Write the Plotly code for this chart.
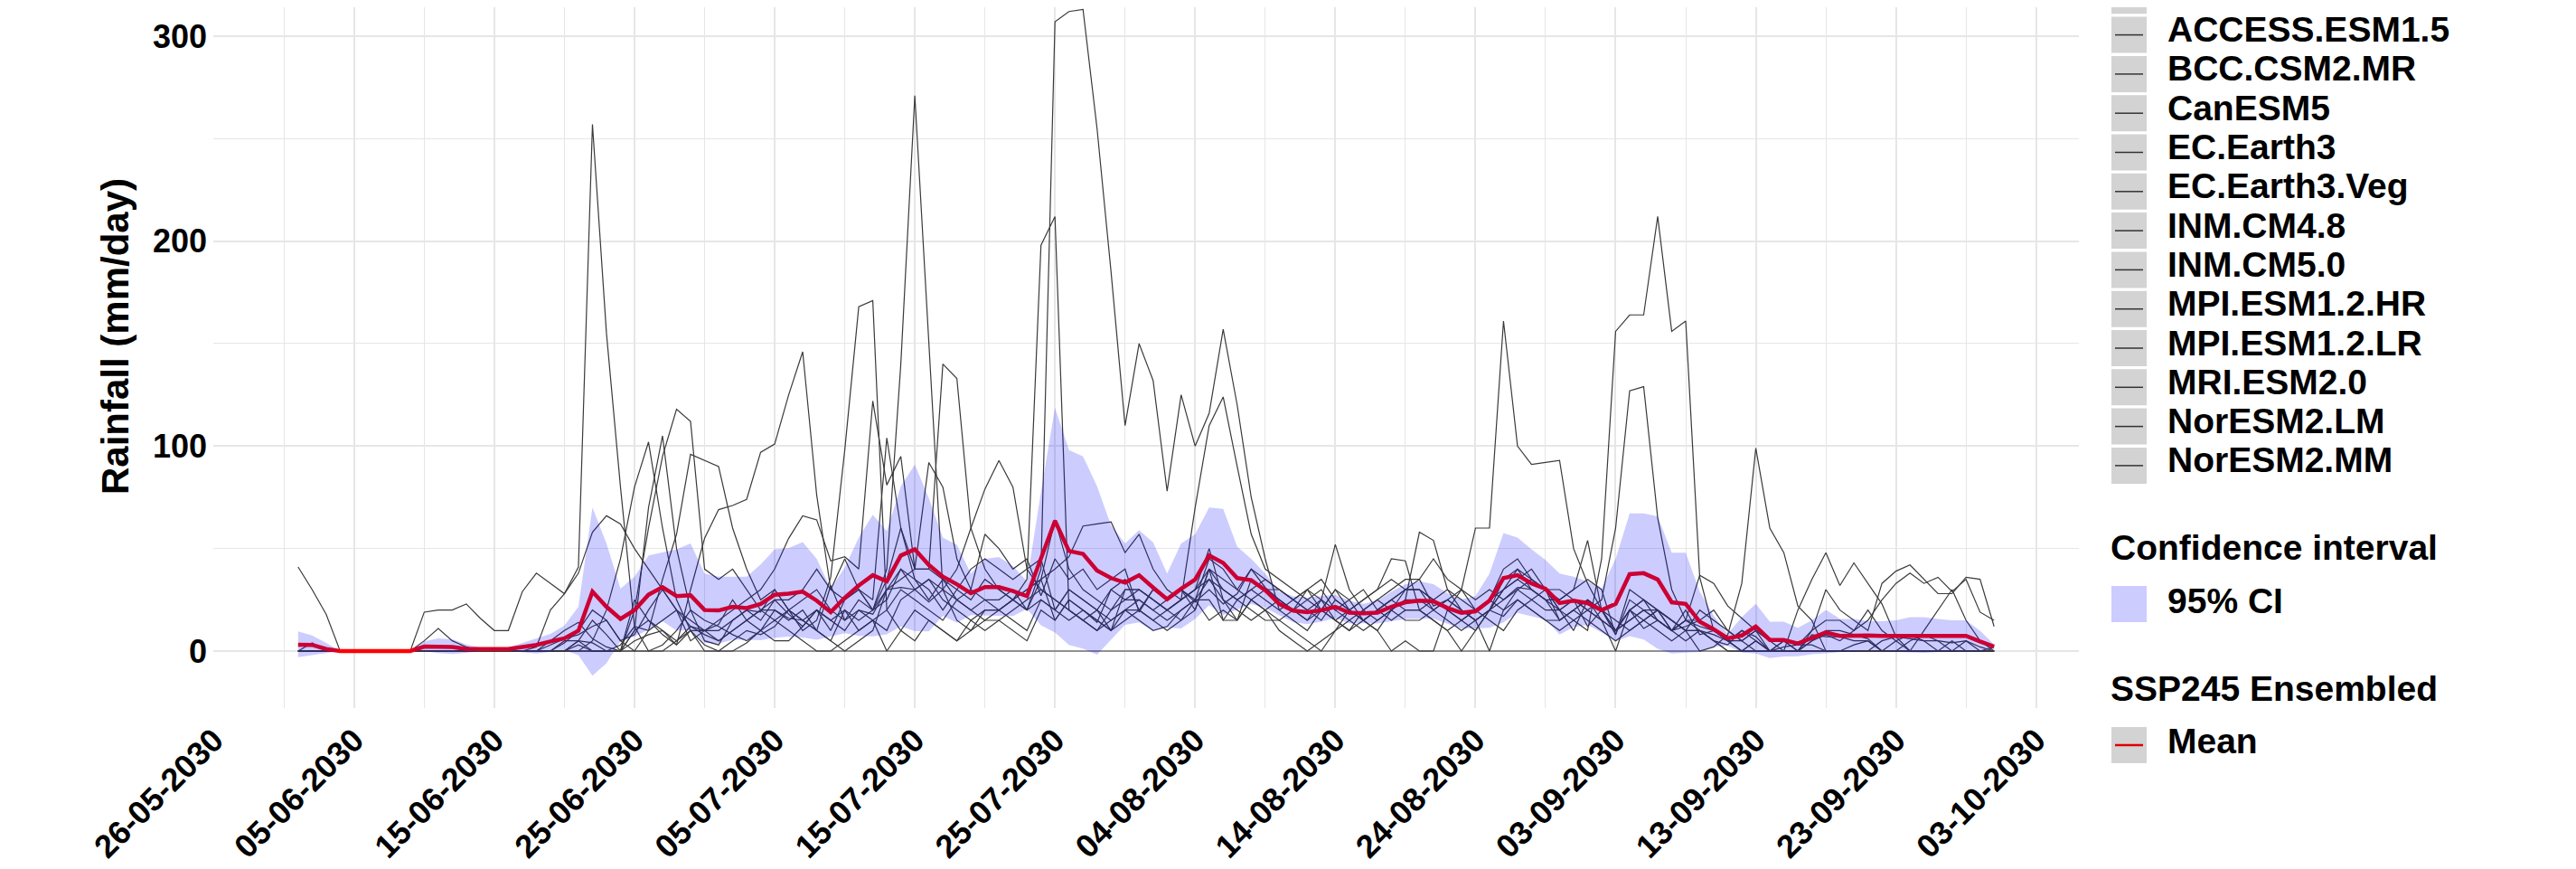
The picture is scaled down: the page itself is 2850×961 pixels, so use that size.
import plotly.graph_objects as go
import pandas as pd

# ---------------- data ----------------
dates = pd.date_range("2030-06-01", "2030-09-30", freq="D")

MODEL_NAMES = ["ACCESS.CM2", "ACCESS.ESM1.5", "BCC.CSM2.MR", "CanESM5", "EC.Earth3",
               "EC.Earth3.Veg", "INM.CM4.8", "INM.CM5.0", "MPI.ESM1.2.HR",
               "MPI.ESM1.2.LR", "MRI.ESM2.0", "NorESM2.LM", "NorESM2.MM"]

ACCESS_CM2 = [41, 30, 18, 0, 0, 0, 0, 0, 0, 19,
              20, 20, 23, 16, 10, 10, 29, 38, 33, 28,
              41, 257, 155, 80, 12, 0, 3, 10, 20, 15,
              12, 8, 5, 10, 15, 10, 5, 0, 0, 5,
              10, 15, 0, 10, 20, 15, 10, 5, 10, 15,
              15, 10, 5, 20, 15, 25, 20, 15, 10, 20,
              15, 10, 12, 20, 25, 15, 20, 15, 25, 20,
              15, 10, 5, 0, 10, 20, 15, 10, 0, 5,
              0, 0, 20, 15, 10, 20, 17, 25, 20, 15,
              15, 20, 25, 20, 10, 15, 20, 15, 10, 12,
              15, 10, 5, 0, 5, 0, 0, 0, 0, 0,
              0, 0, 0, 0, 0, 0, 0, 0, 0, 0,
              0, 0]
ACCESS_ESM1_5 = [0, 0, 0, 0, 0, 0, 0, 0, 0, 5,
                 11, 5, 2, 0, 0, 0, 0, 0, 0, 0,
                 0, 5, 20, 45, 80, 102, 60, 25, 10, 3,
                 0, 5, 10, 8, 12, 20, 15, 10, 5, 0,
                 5, 10, 30, 31, 30, 24, 30, 25, 20, 15,
                 20, 15, 10, 25, 20, 30, 25, 20, 15, 20,
                 20, 15, 10, 15, 20, 40, 15, 15, 25, 20,
                 25, 20, 15, 20, 30, 25, 15, 10, 20, 30,
                 30, 25, 20, 15, 20, 25, 40, 45, 35, 30,
                 30, 25, 20, 15, 10, 20, 25, 20, 15, 10,
                 10, 5, 0, 0, 5, 0, 0, 20, 35, 48,
                 32, 43, 33, 23, 7, 0, 0, 0, 0, 0,
                 0, 0]
BCC_CSM2_MR = [0, 4, 0, 0, 0, 0, 0, 0, 0, 0,
               0, 0, 0, 0, 0, 0, 0, 2, 20, 28,
               38, 58, 66, 62, 50, 40, 30, 20, 12, 8,
               5, 10, 15, 20, 25, 18, 12, 20, 15, 10,
               20, 18, 30, 40, 30, 35, 30, 40, 60, 79,
               93, 80, 40, 30, 25, 20, 15, 10, 20, 25,
               30, 25, 20, 15, 25, 25, 15, 25, 30, 25,
               20, 25, 30, 20, 15, 10, 20, 25, 30, 35,
               35, 22, 25, 20, 15, 20, 35, 40, 30, 25,
               25, 30, 35, 30, 8, 25, 20, 15, 10, 15,
               37, 33, 22, 16, 10, 5, 0, 0, 0, 0,
               0, 0, 0, 0, 0, 0, 0, 0, 0, 0,
               0, 0]
CanESM5 = [0, 0, 0, 0, 0, 0, 0, 0, 0, 0,
           0, 0, 0, 0, 0, 0, 0, 0, 5, 10,
           14, 6, 2, 0, 10, 70, 105, 50, 20, 5,
           3, 15, 20, 15, 25, 25, 30, 40, 30, 25,
           30, 20, 35, 60, 35, 25, 35, 25, 20, 25,
           25, 30, 20, 40, 307, 312, 313, 255, 185, 110,
           150, 132, 78, 125, 100, 116, 157, 120, 75, 45,
           20, 15, 10, 20, 30, 20, 15, 20, 25, 20,
           20, 15, 10, 15, 20, 25, 30, 35, 40, 30,
           25, 30, 54, 20, 8, 30, 25, 20, 15, 10,
           20, 15, 10, 5, 10, 0, 5, 0, 5, 10,
           10, 8, 6, 0, 0, 5, 8, 5, 0, 0,
           0, 0]
EC_Earth3 = [0, 0, 0, 0, 0, 0, 0, 0, 0, 0,
             0, 0, 0, 0, 0, 0, 0, 0, 0, 5,
             5, 15, 8, 0, 20, 60, 95, 118, 112, 40,
             35, 40, 30, 20, 15, 20, 25, 30, 20, 15,
             20, 15, 10, 25, 30, 35, 25, 20, 15, 20,
             20, 25, 35, 198, 212, 20, 15, 10, 15, 20,
             25, 20, 15, 20, 25, 35, 30, 25, 20, 15,
             15, 20, 25, 30, 20, 15, 10, 15, 20, 25,
             25, 20, 15, 10, 15, 20, 25, 30, 35, 30,
             20, 15, 10, 45, 156, 164, 164, 212, 156, 161,
             36, 10, 5, 0, 0, 0, 0, 0, 0, 0,
             0, 0, 0, 0, 0, 0, 0, 0, 0, 0,
             0, 0]
EC_Earth3_Veg = [0, 0, 0, 0, 0, 0, 0, 0, 0, 0,
                 0, 0, 0, 0, 0, 0, 0, 0, 3, 6,
                 8, 12, 15, 5, 0, 10, 35, 57, 96, 93,
                 90, 60, 40, 25, 30, 20, 15, 20, 10, 25,
                 30, 20, 25, 40, 35, 30, 20, 30, 25, 35,
                 30, 25, 20, 35, 40, 46, 61, 62, 63, 48,
                 57, 40, 30, 25, 30, 50, 25, 15, 35, 30,
                 30, 25, 20, 15, 25, 20, 25, 30, 35, 30,
                 30, 25, 20, 30, 60, 60, 161, 100, 91, 92,
                 93, 50, 33, 20, 10, 20, 15, 20, 10, 15,
                 15, 20, 10, 5, 0, 0, 0, 0, 10, 30,
                 20, 15, 10, 33, 39, 42, 35, 28, 28, 36,
                 35, 12]
INM_CM4_8 = [0, 0, 0, 0, 0, 0, 0, 0, 0, 0,
             0, 0, 0, 0, 0, 0, 0, 0, 0, 4,
             10, 20, 15, 5, 8, 20, 30, 20, 15, 10,
             13, 25, 15, 10, 20, 15, 20, 10, 5, 20,
             15, 20, 40, 140, 271, 150, 30, 15, 10, 20,
             20, 25, 30, 35, 15, 25, 20, 15, 10, 15,
             20, 15, 20, 25, 30, 40, 35, 30, 25, 30,
             25, 20, 15, 25, 52, 30, 20, 15, 20, 25,
             58, 54, 30, 20, 15, 0, 20, 30, 25, 20,
             20, 25, 12, 20, 15, 10, 15, 20, 10, 5,
             10, 5, 0, 0, 0, 0, 5, 3, 10, 15,
             15, 10, 20, 10, 5, 0, 10, 20, 30, 15,
             5, 0]
INM_CM5_0 = [0, 0, 0, 0, 0, 0, 0, 0, 0, 0,
             0, 0, 0, 0, 0, 0, 0, 0, 0, 0,
             5, 0, 0, 0, 25, 15, 10, 5, 12, 10,
             10, 15, 20, 19, 30, 20, 10, 15, 36, 98,
             168, 171, 20, 10, 5, 15, 10, 5, 15, 10,
             15, 20, 25, 30, 25, 20, 15, 20, 10, 30,
             30, 25, 20, 25, 70, 110, 124, 90, 57, 40,
             35, 30, 25, 20, 15, 20, 25, 30, 45, 44,
             20, 25, 30, 25, 20, 15, 10, 20, 25, 30,
             20, 25, 20, 15, 10, 20, 11, 15, 10, 15,
             12, 10, 5, 10, 5, 0, 0, 0, 0, 0,
             0, 0, 0, 0, 0, 0, 0, 0, 0, 0,
             0, 0]
MPI_ESM1_2_HR = [0, 0, 0, 0, 0, 0, 0, 0, 0, 0,
                 0, 0, 0, 0, 0, 0, 0, 0, 0, 0,
                 0, 0, 0, 0, 10, 15, 8, 3, 10, 10,
                 5, 10, 15, 20, 20, 16, 15, 10, 32, 15,
                 25, 20, 30, 35, 40, 40, 140, 133, 60, 40,
                 30, 25, 20, 25, 20, 15, 20, 14, 30, 35,
                 20, 30, 25, 30, 20, 40, 30, 25, 30, 35,
                 30, 25, 30, 35, 25, 20, 15, 20, 25, 30,
                 30, 20, 25, 20, 15, 20, 30, 35, 30, 25,
                 15, 20, 25, 20, 10, 15, 20, 20, 15, 10,
                 10, 8, 5, 0, 0, 0, 0, 0, 5, 8,
                 5, 10, 15, 25, 33, 38, 33, 36, 29, 35,
                 19, 15]
MPI_ESM1_2_LR = [0, 0, 0, 0, 0, 0, 0, 0, 0, 0,
                 0, 0, 0, 0, 0, 0, 0, 0, 0, 0,
                 3, 0, 0, 0, 5, 8, 10, 3, 30, 55,
                 69, 71, 74, 97, 101, 125, 146, 76, 30, 45,
                 30, 25, 104, 60, 40, 92, 80, 45, 30, 25,
                 20, 25, 30, 35, 64, 40, 30, 25, 20, 30,
                 30, 25, 20, 25, 30, 35, 25, 20, 15, 20,
                 10, 5, 0, 5, 10, 15, 20, 25, 20, 15,
                 15, 20, 25, 30, 25, 30, 25, 31, 30, 25,
                 20, 10, 25, 15, 0, 20, 25, 15, 10, 20,
                 8, 10, 5, 5, 10, 5, 5, 0, 8, 7,
                 7, 5, 5, 0, 5, 8, 5, 0, 0, 5,
                 2, 0]
MRI_ESM2_0 = [0, 0, 0, 0, 0, 0, 0, 0, 0, 0,
              0, 0, 0, 0, 0, 0, 0, 0, 0, 0,
              5, 4, 0, 0, 0, 0, 0, 5, 10, 0,
              0, 0, 4, 10, 5, 5, 12, 20, 15, 20,
              10, 15, 20, 30, 25, 20, 15, 25, 30, 57,
              50, 40, 45, 27, 45, 35, 40, 30, 35, 40,
              19, 30, 25, 30, 24, 30, 23, 28, 40, 35,
              30, 25, 20, 25, 20, 25, 30, 20, 15, 20,
              20, 15, 10, 0, 10, 20, 30, 40, 35, 30,
              15, 20, 15, 10, 5, 10, 15, 10, 5, 10,
              0, 2, 8, 33, 99, 60, 48, 22, 15, 0,
              0, 0, 0, 5, 7, 6, 5, 5, 4, 5,
              0, 0]
NorESM2_LM = [0, 0, 0, 0, 0, 0, 0, 0, 0, 0,
              0, 0, 0, 0, 0, 0, 0, 0, 0, 0,
              0, 0, 0, 3, 12, 10, 15, 20, 5, 10,
              15, 20, 25, 30, 40, 55, 66, 64, 44, 46,
              40, 122, 81, 95, 40, 40, 35, 30, 40, 45,
              40, 35, 40, 45, 20, 30, 25, 20, 30, 25,
              25, 20, 25, 30, 25, 45, 40, 30, 40, 31,
              25, 20, 30, 25, 15, 10, 15, 20, 25, 30,
              35, 45, 35, 30, 20, 25, 20, 25, 20, 15,
              10, 15, 20, 25, 60, 127, 129, 65, 30, 15,
              10, 5, 3, 10, 7, 0, 2, 3, 3, 0,
              0, 3, 5, 0, 0, 0, 0, 0, 5, 0,
              0, 2]
NorESM2_MM = [0, 0, 0, 0, 0, 0, 0, 0, 0, 0,
              0, 0, 0, 0, 0, 0, 0, 0, 0, 0,
              0, 0, 0, 0, 0, 0, 0, 0, 0, 0,
              0, 0, 0, 0, 0, 0, 0, 0, 0, 0,
              0, 0, 0, 0, 0, 0, 0, 0, 0, 0,
              0, 0, 0, 0, 0, 0, 0, 0, 0, 0,
              0, 0, 0, 0, 0, 0, 0, 0, 0, 0,
              0, 0, 0, 0, 0, 0, 0, 0, 0, 0,
              0, 0, 0, 0, 0, 0, 0, 0, 0, 0,
              0, 0, 0, 0, 0, 0, 0, 0, 0, 0,
              0, 0, 0, 0, 0, 0, 0, 0, 0, 0,
              0, 0, 0, 0, 0, 0, 0, 0, 0, 0,
              0, 0]

ENSEMBLE_MEAN = [3.1, 3, 1, 0, 0, 0, 0, 0, 0, 2.2,
                 2.2, 2, 1, 1, 1, 1, 2, 3, 4.7, 6.2,
                 9.9, 29, 21.6, 15.7, 20, 27.5, 31.2, 26.8, 27.2, 20,
                 19.8, 21.6, 21, 23, 27.5, 28, 29, 24.6, 19, 26,
                 32, 37, 34, 46.6, 49.6, 42, 36.3, 32.6, 28.2, 31.2,
                 31.2, 29.3, 26.8, 45, 63.5, 48.8, 47.4, 39.3, 35.6, 33.4,
                 37, 31, 25.3, 30.4, 34.9, 46.6, 43, 35.6, 34.6, 29.7,
                 23, 19.7, 19, 19.9, 21.6, 18.7, 18.4, 18.7, 21.6, 23.8,
                 24.6, 24.3, 21, 18.7, 19.4, 24.6, 35.6, 37, 33, 30.4,
                 23.4, 24.6, 23.4, 20, 23, 37.5, 38, 34.9, 23.8, 23,
                 14.3, 10.6, 6.2, 7.6, 12, 5.4, 5.4, 3.7, 6.2, 9.1,
                 7.4, 7.6, 7.6, 7.4, 7.4, 7.6, 7.4, 7.4, 7.4, 7.4,
                 4.7, 2.2]
CI_UPPER = [9.6, 7.6, 4, 0, 0, 0, 0, 0, 0, 4.7,
            6.2, 5.7, 3.2, 1.8, 1.8, 1.8, 4, 6.2, 8.4, 12.5,
            21.6, 70, 52.5, 30.4, 36.3, 46.6, 48, 49.6, 52.5, 37.8,
            36.3, 36.3, 36.3, 42.2, 49.6, 50.3, 53.2, 45, 30.4, 40.7,
            55.4, 66.5, 58.4, 80.4, 91, 74.6, 55.4, 51.8, 37.8, 45,
            45.9, 41.5, 34.1, 77.5, 118.7, 98, 95, 80.4, 61.3, 52.5,
            59, 53, 37.8, 52.5, 57, 70, 69.4, 51, 45, 37.8,
            29, 26.8, 26, 26.8, 27.5, 24.6, 23, 24.6, 29, 32.6,
            34.1, 32.6, 28.2, 25.3, 26.8, 37.8, 57.6, 55.4, 49.6, 44.4,
            37.8, 36.3, 34, 30.4, 45, 67.2, 67.2, 65.7, 48, 48,
            29, 17.2, 8.4, 16.5, 23, 14.3, 14.3, 11.3, 15, 20.1,
            15.7, 15.7, 14.6, 14.6, 15, 16.5, 16.5, 15.7, 15, 15,
            9.9, 3.2]
CI_LOWER = [-3, -2, -1, 0, 0, 0, 0, 0, 0, 0,
            -1, -1.4, -0.9, 0.2, 0.2, 0.2, -0.6, -1.2, -0.3, 0.4,
            -2, -12, -6, 5, 7, 10.5, 14.5, 10, 10, 4,
            3.6, 5.5, 5.5, 5.3, 6.5, 7, 6.6, 5.5, 7.2, 8.7,
            7.4, 7.2, 8.2, 12, 9.7, 9.6, 17.2, 13.8, 17.5, 17.3,
            17.2, 17.1, 20.5, 12.6, 9, 3, 1.2, -1.8, 5.5, 12.8,
            14, 10, 11.3, 11, 15.7, 22.4, 17.6, 20.1, 22.9, 21.2,
            17.4, 14.1, 13.1, 14.3, 16.1, 13.5, 13.6, 13.4, 14.6, 15.7,
            15.8, 15.8, 13.3, 11, 11, 11.3, 14, 18.6, 16.8, 15.3,
            8, 11.7, 12.8, 9, 4.7, 7.3, 5.6, 1.1, -1.2, -0.8,
            -0.4, 2.1, 2.5, -0.7, -1.2, -3.4, -2.7, -2.5, -1.5, -1.1,
            -0.5, -0.3, 0.2, 0, -0.2, -0.7, -0.9, -0.5, -0.2, -0.2,
            -0.2, 1]

MODELS = [ACCESS_CM2, ACCESS_ESM1_5, BCC_CSM2_MR, CanESM5, EC_Earth3, EC_Earth3_Veg,
          INM_CM4_8, INM_CM5_0, MPI_ESM1_2_HR, MPI_ESM1_2_LR, MRI_ESM2_0,
          NorESM2_LM, NorESM2_MM]

for arr in MODELS + [ENSEMBLE_MEAN, CI_UPPER, CI_LOWER]:
    assert len(arr) == len(dates), len(arr)

# ---------------- styling ----------------
FONT = "Liberation Sans, Arial, sans-serif"
W, H = 2850, 961
PL, PR, PT, PB = 228, 2292, 0, 775   # plot-area pixel box
GRID = "#e6e6e6"


def px_x(px):
    return (px - PL) / (PR - PL)


def px_y(py):
    return (PB - py) / (PB - PT)


fig = go.Figure()

for name, vals in zip(MODEL_NAMES, MODELS):
    fig.add_trace(go.Scatter(x=dates, y=vals, mode="lines", name=name,
                             line=dict(color="#3a3a3a", width=1.2),
                             showlegend=False))

fig.add_trace(go.Scatter(x=dates, y=ENSEMBLE_MEAN, mode="lines", name="Mean",
                         line=dict(color="#ff0000", width=4.5), showlegend=False))

fig.add_trace(go.Scatter(x=list(dates) + list(dates[::-1]),
                         y=CI_UPPER + CI_LOWER[::-1],
                         fill="toself", fillcolor="rgba(0,0,255,0.2)",
                         mode="lines", line=dict(width=0, color="rgba(0,0,0,0)"),
                         name="95% CI", hoverinfo="skip", showlegend=False))

tickfont = dict(family=FONT, size=36, color="black", weight="bold")

fig.update_layout(
    template="none",
    width=W, height=H,
    margin=dict(l=PL, r=W - PR, t=PT, b=H - PB, autoexpand=False),
    paper_bgcolor="white", plot_bgcolor="white",
    font=dict(family=FONT, color="black"),
    showlegend=False,
    xaxis=dict(
        type="date",
        range=["2030-05-25 22:48", "2030-10-06 01:12"],
        tick0="2030-05-26", dtick=864000000, tickformat="%d-%m-%Y",
        tickangle=-45, tickfont=tickfont, ticks="", ticklabelstandoff=6,
        showgrid=True, gridcolor=GRID, gridwidth=1.6,
        minor=dict(tick0="2030-05-26", dtick=432000000, showgrid=True,
                   gridcolor=GRID, gridwidth=1.1, ticks=""),
        showline=False, zeroline=False, automargin=False,
    ),
    yaxis=dict(
        range=[-27.8, 314.1], tick0=0, dtick=100,
        tickfont=tickfont, ticks="", ticklabelstandoff=6,
        showgrid=True, gridcolor=GRID, gridwidth=1.6,
        minor=dict(tick0=0, dtick=50, showgrid=True, gridcolor=GRID,
                   gridwidth=1.1, ticks=""),
        showline=False, zeroline=False, automargin=False,
    ),
)

annotations = []
shapes = []

# axis titles
annotations.append(dict(text="Rainfall (mm/day)", xref="paper", yref="paper",
                        x=px_x(119), y=px_y(364), xanchor="center", yanchor="middle",
                        textangle=-90, showarrow=False,
                        font=dict(family=FONT, size=42, color="black", weight="bold")))
annotations.append(dict(text="Date", xref="paper", yref="paper",
                        x=px_x(1260), y=px_y(951), xanchor="center", yanchor="top",
                        showarrow=False,
                        font=dict(family=FONT, size=40, color="black", weight="bold")))

# manual legend (ggplot-style keys)
DX = -7
KEY_X0, KEY_X1 = 2335 + DX, 2374 + DX
TXT_X = 2395 + DX
TITLE_X = 2332 + DX
TXT_DY = -6
LFONT = dict(family=FONT, size=39, color="black", weight="bold")
KEY_GREY = "#d3d3d3"


def key_box(yc, color):
    shapes.append(dict(type="rect", xref="paper", yref="paper",
                       x0=px_x(KEY_X0), x1=px_x(KEY_X1),
                       y0=px_y(yc + 20), y1=px_y(yc - 20),
                       fillcolor=color, line=dict(width=0), layer="above"))


def key_line(yc, color, width):
    shapes.append(dict(type="line", xref="paper", yref="paper",
                       x0=px_x(KEY_X0 + 4), x1=px_x(KEY_X1 - 4),
                       y0=px_y(yc), y1=px_y(yc),
                       line=dict(color=color, width=width), layer="above"))


def label(text, x, yc):
    annotations.append(dict(text=text, xref="paper", yref="paper",
                            x=px_x(x), y=px_y(yc + TXT_DY), xanchor="left",
                            yanchor="middle", showarrow=False, font=LFONT))


for k, name in enumerate(MODEL_NAMES):
    yc = -12.7 + 43.3 * k
    key_box(yc, KEY_GREY)
    key_line(yc, "#333333", 1.5)
    label(name, TXT_X, yc)

label("Confidence interval", TITLE_X, 603)
shapes.append(dict(type="rect", xref="paper", yref="paper",
                   x0=px_x(KEY_X0), x1=px_x(KEY_X1), y0=px_y(680), y1=px_y(640),
                   fillcolor="#ccccff", line=dict(width=0), layer="above"))
label("95% CI", TXT_X, 662)

label("SSP245 Ensembled", TITLE_X, 759)
key_box(816, KEY_GREY)
key_line(816, "#e00000", 2.5)
label("Mean", TXT_X, 817)

# blue border strip on the right edge
shapes.append(dict(type="rect", xref="paper", yref="paper",
                   x0=px_x(2846), x1=px_x(2852), y0=px_y(980), y1=px_y(-20),
                   fillcolor="#3535d5", line=dict(width=0), layer="above"))

fig.update_layout(annotations=annotations, shapes=shapes)

fig.write_html("out.html", config={"displayModeBar": False})
